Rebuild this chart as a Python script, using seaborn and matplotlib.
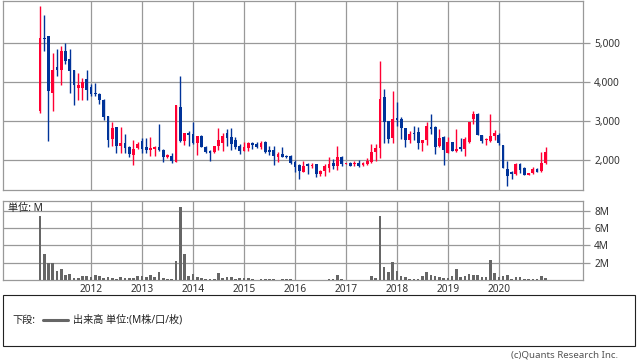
import numpy as np
import pandas as pd
import matplotlib
matplotlib.use("Agg")
import matplotlib.pyplot as plt
from matplotlib.patches import Rectangle
from matplotlib.lines import Line2D
import seaborn as sns

# ---- data (monthly candles, Jan 2011 - Dec 2020) ----
start_month = "2011-01"
opens = [3257, 5130, 5180, 3730, 4385, 4317, 4796, 4590, 4310, 3855, 3864, 4078,
         3880, 3720, 3710, 3556, 3130, 2547, 2855, 2360, 2436, 2342, 2145, 2316,
         2487, 2333, 2265, 2290, 2333, 2265, 2085, 2110, 1966, 3360, 2487, 2693,
         2676, 2445, 2625, 2333, 2230, 2205, 2368, 2445, 2693, 2590, 2513, 2368,
         2230, 2325, 2436, 2410, 2342, 2470, 2256, 2256, 2085, 2154, 2120, 2120,
         1957, 1880, 1701, 1906, 1863, 1906, 1650, 1727, 1803, 1923, 1855, 2085,
         1897, 1923, 1915, 1940, 1880, 1897, 1950, 2205, 2325, 3616, 3000, 2573,
         3077, 3050, 2830, 2520, 2710, 2718, 2445, 2520, 2855, 2855, 2376, 2600,
         2188, 2462, 2240, 2342, 2282, 2470, 3060, 3180, 2660, 2513, 2500, 2633,
         2660, 2385, 1786, 1692, 1650, 1897, 1795, 1624, 1675, 1770, 1718, 1940]
highs = [5950, 5720, 5180, 4740, 4864, 4924, 5018, 4864, 4310, 4230, 4120, 4310,
         3966, 3983, 3727, 3580, 3130, 2983, 2855, 2855, 2684, 2376, 2513, 2470,
         2573, 2573, 2590, 2376, 2923, 2300, 2154, 2180, 3410, 4155, 2700, 2740,
         2975, 2616, 2640, 2360, 2256, 2368, 2830, 2700, 2804, 2820, 2600, 2410,
         2470, 2462, 2480, 2462, 2487, 2487, 2376, 2360, 2214, 2342, 2137, 2145,
         2000, 1906, 1983, 1932, 1923, 1906, 1760, 1906, 2077, 2043, 2360, 2110,
         1940, 1950, 1983, 2000, 1957, 2051, 2420, 2430, 4540, 3820, 3000, 3780,
         3496, 3120, 2830, 2744, 2872, 2847, 2520, 2975, 3180, 2872, 2795, 2633,
         2600, 2462, 2795, 2573, 2600, 2983, 3257, 3214, 2660, 2573, 3180, 2770,
         2700, 2385, 1975, 1727, 1940, 1923, 1830, 1675, 1830, 1795, 2205, 2342]
lows = [3214, 4800, 2500, 3257, 4163, 3932, 4480, 3727, 3420, 3548, 3548, 3548,
        3650, 3640, 3455, 3026, 2342, 2360, 2188, 2188, 2188, 2085, 1890, 2282,
        2188, 2188, 2120, 2120, 2230, 1957, 2068, 1932, 1949, 2462, 2385, 2360,
        2420, 2128, 2342, 2188, 1975, 2188, 2256, 2240, 2360, 2256, 2300, 2170,
        2230, 2240, 2290, 2325, 2290, 2180, 2145, 1890, 1957, 2085, 2051, 1906,
        1710, 1522, 1700, 1658, 1803, 1573, 1598, 1598, 1700, 1787, 1744, 1855,
        1897, 1846, 1863, 1838, 1855, 1880, 1932, 1975, 2060, 2445, 2445, 2445,
        2872, 2540, 2342, 2445, 2513, 2290, 2240, 2385, 2684, 2154, 2342, 1890,
        2188, 2240, 2214, 2230, 2110, 2453, 2923, 2640, 2445, 2400, 2470, 2530,
        2400, 1803, 1342, 1513, 1615, 1675, 1624, 1624, 1658, 1700, 1700, 1915]
closes = [5138, 5110, 3780, 4310, 4317, 4796, 4548, 4290, 3932, 3932, 4010, 3796,
          3693, 3710, 3540, 3103, 2513, 2830, 2368, 2445, 2316, 2154, 2282, 2420,
          2282, 2265, 2308, 2342, 2265, 2085, 2137, 1983, 3410, 2487, 2693, 2650,
          2445, 2616, 2342, 2205, 2188, 2368, 2513, 2625, 2573, 2427, 2342, 2250,
          2333, 2436, 2393, 2342, 2445, 2214, 2214, 2103, 2154, 2085, 2085, 1923,
          1830, 1718, 1863, 1863, 1890, 1650, 1735, 1855, 1897, 1855, 2077, 1915,
          1940, 1863, 1940, 1855, 1940, 1975, 2205, 2310, 3565, 2983, 2556, 3050,
          3026, 2830, 2520, 2684, 2667, 2445, 2520, 2872, 2804, 2342, 2573, 2274,
          2462, 2240, 2300, 2290, 2540, 2983, 3180, 2640, 2500, 2547, 2633, 2693,
          2445, 1803, 1600, 1650, 1906, 1752, 1624, 1675, 1770, 1700, 1940, 2205]
volumes_m = [7.35, 3.0, 1.96, 1.96, 1.04, 1.27, 0.58, 0.69, 0.23, 0.23, 0.46, 0.46,
             0.35, 0.54, 0.46, 0.23, 0.35, 0.23, 0.15, 0.35, 0.23, 0.23, 0.23, 0.46,
             0.46, 0.35, 0.58, 0.35, 0.92, 0.23, 0.15, 0.15, 2.19, 8.42, 3.0, 0.46,
             0.69, 0.35, 0.23, 0.15, 0.15, 0.15, 0.8, 0.23, 0.35, 0.35, 0.15, 0.23,
             0.23, 0.23, 0.15, 0.04, 0.15, 0.15, 0.15, 0.15, 0.05, 0.15, 0.08, 0.15,
             0.04, 0.04, 0.04, 0.04, 0.04, 0.04, 0.04, 0.04, 0.12, 0.12, 0.58, 0.15,
             0.03, 0.03, 0.03, 0.03, 0.03, 0.03, 0.46, 0.23, 7.38, 1.5, 0.92, 2.08,
             1.08, 0.46, 0.35, 0.15, 0.15, 0.15, 0.46, 0.92, 0.58, 0.46, 0.35, 0.23,
             0.23, 0.46, 1.27, 0.35, 0.46, 0.69, 0.58, 0.58, 0.35, 0.35, 2.3, 0.8,
             0.35, 0.46, 0.58, 0.15, 0.35, 0.35, 0.15, 0.15, 0.15, 0.15, 0.46, 0.23]
year_labels = ["2012", "2013", "2014", "2015", "2016", "2017", "2018", "2019", "2020"]
price_ticks = [2000, 3000, 4000, 5000]
price_tick_labels = ["2,000", "3,000", "4,000", "5,000"]
vol_ticks = [2, 4, 6, 8]
vol_tick_labels = ["2M", "4M", "6M", "8M"]

# ---- styling ----
sns.set_theme(style="white")
plt.rcParams['font.family'] = ['Noto Sans', 'Noto Sans CJK JP', 'DejaVu Sans']

UP = "#ff0033"
DOWN = "#003399"
GRID = "#999999"
TXT = "#333333"

W, H = 638, 362
fig = plt.figure(figsize=(W / 100, H / 100), dpi=100)

def fig_axes(left, top, right, bottom):
    return fig.add_axes([left / W, 1 - bottom / H, (right - left) / W, (bottom - top) / H])

axp = fig_axes(3, 1, 583, 190)
axv = fig_axes(3, 201, 583, 280)

n = len(opens)
idx = np.arange(n)
months = pd.period_range(start_month, periods=n, freq="M")
df = pd.DataFrame({"x": idx, "open": opens, "high": highs, "low": lows,
                   "close": closes, "vol": volumes_m, "month": months})
year_pos = [int(df.loc[(df.month.dt.year == int(y)) & (df.month.dt.month == 1), "x"].iloc[0])
            for y in year_labels]

xlim = (-8.7, 127.8)

def style_axis(ax):
    ax.set_xlim(*xlim)
    ax.set_axisbelow(True)
    for s in ax.spines.values():
        s.set_color(GRID)
        s.set_linewidth(0.9)
        s.set_visible(True)
    ax.grid(True, color=GRID, linewidth=0.9)
    ax.set_xticks(year_pos)
    ax.yaxis.tick_right()
    ax.tick_params(axis="y", direction="out", length=5, width=0.9, color=GRID,
                   labelsize=7.3, labelcolor=TXT, pad=3, left=False, right=True)
    ax.tick_params(axis="x", length=0)
    ax.set_xlabel("")
    ax.set_ylabel("")

# ---- price candles ----
up = df.close >= df.open
colors = np.where(up, UP, DOWN)
axp.vlines(df.x, df.low, df.high, colors=colors, linewidth=1.0, zorder=3)
body_bottom = np.minimum(df.open, df.close)
body_h = np.maximum(np.abs(df.close - df.open), 22)
axp.bar(df.x, body_h, bottom=body_bottom, width=0.65, color=colors, linewidth=0, zorder=4)
axp.set_ylim(1238, 6085)
style_axis(axp)
axp.set_yticks(price_ticks)
axp.set_yticklabels(price_tick_labels)
axp.set_xticklabels([])

# ---- volume ----
sns.barplot(data=df, x="x", y="vol", native_scale=True, color="#666666",
            saturation=1, width=0.63, linewidth=0, ax=axv, zorder=3)
axv.set_ylim(0, 9.1)
style_axis(axv)
axv.set_yticks(vol_ticks)
axv.set_yticklabels(vol_tick_labels)
axv.set_xticklabels(year_labels)
axv.tick_params(axis="x", labelsize=7.3, labelcolor=TXT, pad=3)

fig.text(8 / W, 1 - 209 / H, "単位: M", fontsize=7.3, color="#222222", va="center", ha="left")

# ---- legend box ----
fig.add_artist(Rectangle((3 / W, 1 - 346 / H), 632 / W, 51 / H, transform=fig.transFigure,
                         fill=False, edgecolor="#222222", linewidth=0.8))
ly = 1 - 320 / H
fig.text(12 / W, ly, "下段:", fontsize=7.3, color="#222222", va="center", ha="left")
fig.add_artist(Line2D([43 / W, 68 / W], [ly, ly], transform=fig.transFigure,
                      color="#666666", linewidth=2.2))
fig.text(73 / W, ly, "出来高 単位:(M株/口/枚)", fontsize=7.3, color="#222222", va="center", ha="left")

fig.text(618 / W, 1 - 355 / H, "(c)Quants Research Inc.", fontsize=7, color="#555555",
         va="center", ha="right")

fig.savefig("out.png", dpi=100)
